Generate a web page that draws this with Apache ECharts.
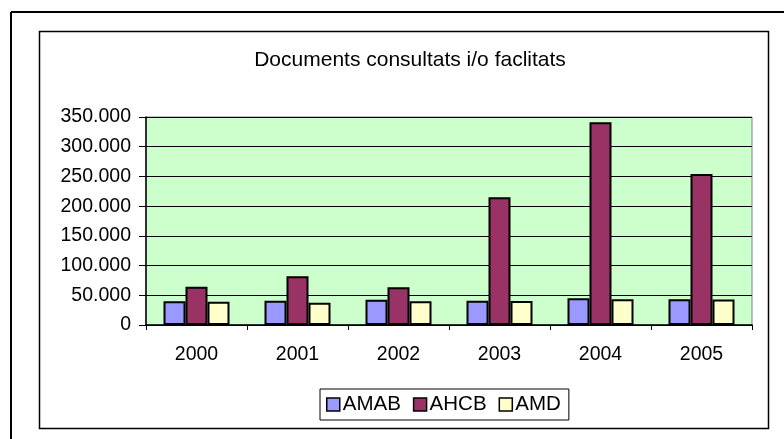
<!DOCTYPE html>
<html>
<head>
<meta charset="utf-8">
<script src="https://cdn.jsdelivr.net/npm/echarts@6/dist/echarts.min.js"></script>
<style>
  html, body { margin: 0; padding: 0; background: #fff; }
  #chart { width: 784px; height: 439px; }
</style>
</head>
<body>
<div id="chart"></div>
<script>
// dades llegides del gràfic
var anys = ['2000', '2001', '2002', '2003', '2004', '2005'];
var amab = [40000, 41000, 42500, 41000, 45000, 43500];
var ahcb = [64500, 82000, 63500, 215000, 341000, 254000];
var amd = [39000, 37500, 40000, 40500, 43500, 43000];
var yTicks = [0, 50000, 100000, 150000, 200000, 250000, 300000, 350000];

var fontFam = '"Liberation Sans", Arial, sans-serif';

// format amb punt de milers
function milers(v) {
  return String(v).replace(/\B(?=(\d{3})+(?!\d))/g, '.');
}

var chart = echarts.init(document.getElementById('chart'), null, { renderer: 'canvas' });

function barra(nom, dades, color) {
  return {
    type: 'bar',
    name: nom,
    data: dades,
    barWidth: 22,
    barGap: '0%',
    itemStyle: { color: color, borderColor: '#000', borderWidth: 2 },
    emphasis: { disabled: true }
  };
}

var option = {
  animation: false,
  textStyle: { fontFamily: fontFam },
  graphic: [
    // vora de la cel·la
    { type: 'line', shape: { x1: 11, y1: 12, x2: 784, y2: 12 }, style: { stroke: '#000', lineWidth: 2 } },
    { type: 'line', shape: { x1: 11, y1: 12, x2: 11, y2: 439 }, style: { stroke: '#000', lineWidth: 2 } },
    // marc del gràfic
    { type: 'rect', shape: { x: 39.5, y: 31.5, width: 729, height: 397 }, style: { fill: 'none', stroke: '#000', lineWidth: 1.5 }, z: -1 }
  ],
  title: {
    text: 'Documents consultats i/o faclitats',
    left: 405,
    textAlign: 'center',
    top: 45,
    textStyle: { fontFamily: fontFam, fontSize: 21, fontWeight: 'normal', color: '#000' }
  },
  legend: {
    left: 320,
    top: 389,
    padding: [5, 8, 5, 6],
    itemWidth: 13,
    itemHeight: 13,
    itemGap: 12,
    icon: 'rect',
    borderColor: '#000',
    borderWidth: 1,
    itemStyle: { borderColor: '#000', borderWidth: 1.5 },
    textStyle: { fontFamily: fontFam, fontSize: 20.5, color: '#000', padding: [0, 0, 0, -2] },
    data: ['AMAB', 'AHCB', 'AMD']
  },
  grid: {
    left: 146,
    top: 117,
    right: 32,
    bottom: 114,
    show: true,
    backgroundColor: '#CCFFCC',
    borderColor: '#808080',
    borderWidth: 1,
    containLabel: false
  },
  xAxis: {
    type: 'category',
    data: anys,
    axisLine: { lineStyle: { color: '#000', width: 1.5 } },
    axisTick: { show: true, length: 5, lineStyle: { color: '#000' } },
    axisLabel: { fontFamily: fontFam, fontSize: 19.5, color: '#000', margin: 20 }
  },
  yAxis: {
    type: 'value',
    min: yTicks[0],
    max: yTicks[yTicks.length - 1],
    interval: yTicks[1] - yTicks[0],
    axisLine: { show: true, lineStyle: { color: '#000', width: 1.5 } },
    axisTick: { show: true, length: 7, lineStyle: { color: '#000' } },
    axisLabel: { fontFamily: fontFam, fontSize: 19.5, color: '#000', margin: 15, formatter: milers },
    splitLine: { lineStyle: { color: '#000', width: 1 } }
  },
  series: [
    barra('AMAB', amab, '#9999FF'),
    barra('AHCB', ahcb, '#993366'),
    barra('AMD', amd, '#FFFFCC')
  ]
};

chart.setOption(option);
</script>
</body>
</html>
